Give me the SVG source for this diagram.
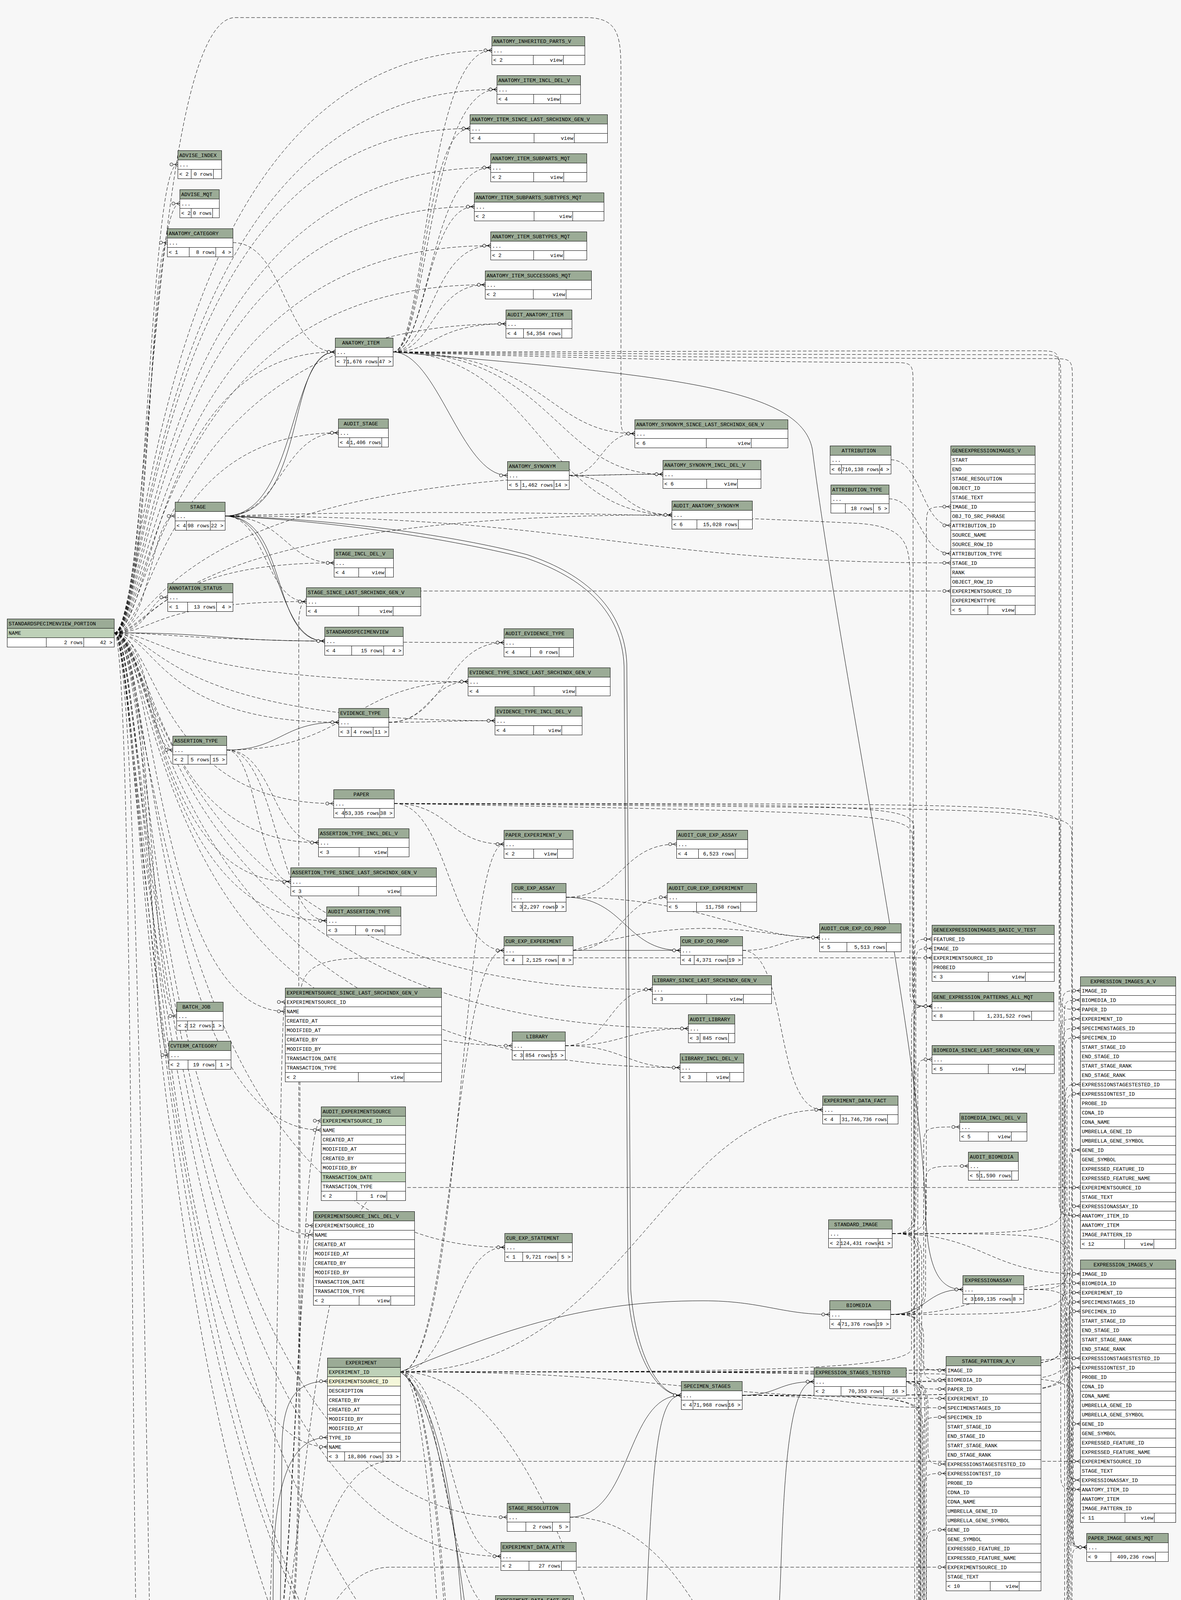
<svg xmlns="http://www.w3.org/2000/svg" width="3024" height="6423" viewBox="0 0 3024 6423">
<style>
text{font-family:"Liberation Mono","DejaVu Sans Mono",monospace;font-size:13.3px;fill:#000}
.e{text-anchor:end}
.h{fill:#9bab96;stroke:#000}
.b{fill:url(#rw);stroke:#000}
.k{fill:#bed1b8;stroke:#000}
.yl{fill:#f4f7da;stroke:#000}
.tb rect,.tb path{shape-rendering:crispEdges}
.tb path{stroke:#000;fill:none}
#cn path{fill:none;stroke:#000;stroke-width:1;marker-end:url(#m)}
#cn .d{stroke-dasharray:9 5}
</style>
<defs>
<marker id="m" viewBox="0 0 24 14" markerWidth="24" markerHeight="14" refX="22" refY="7" orient="auto" markerUnits="userSpaceOnUse">
<path d="M10 7H22M14 7L22 2M14 7L22 12" fill="none" stroke="#000" stroke-width="1"/>
<circle cx="6" cy="7" r="4" fill="#f7f7f7" stroke="#000" stroke-width="1"/>
</marker>
<pattern id="rw" width="2000" height="24" patternUnits="userSpaceOnUse"><rect width="2000" height="24" fill="#fff"/><rect width="2000" height="1" fill="#000"/></pattern>
</defs>
<rect width="3024" height="6423" fill="#f7f7f7"/>
<g id="cn">
<path class="d" d="M292 1620C380 1620 380 421 455 421"/>
<path class="d" d="M292 1620C382 1620 382 521 460 521"/>
<path class="d" d="M292 1620C384 1620 384 621 428 621"/>
<path class="d" d="M292 1620C376 1620 376 129 1259 129"/>
<path class="d" d="M292 1620C378 1620 378 229 1272 229"/>
<path class="d" d="M292 1620C380 1620 380 329 1203 329"/>
<path class="d" d="M292 1620C382 1620 382 429 1256 429"/>
<path class="d" d="M292 1620C384 1620 384 529 1214 529"/>
<path class="d" d="M292 1620C386 1620 386 629 1256 629"/>
<path class="d" d="M292 1620C388 1620 388 729 1242 729"/>
<path class="d" d="M292 1620C390 1620 390 829 1295 829"/>
<path class="d" d="M292 1620C392 1620 392 901 858 901"/>
<path class="d" d="M292 1620C394 1620 394 1108 866 1108"/>
<path class="d" d="M292 1620C386 1620 386 1321 448 1321"/>
<path class="d" d="M292 1620C390 1620 390 1441 855 1441"/>
<path class="d" d="M292 1620C382 1620 382 1529 429 1529"/>
<path class="d" d="M292 1620C396 1620 396 1540 784 1540"/>
<path class="d" d="M292 1620C385 1620 385 60 600 45L1500 45C1590 45 1590 100 1590 200L1590 1050C1590 1110 1590 1110 1625 1110"/>
<path class="d" d="M292 1620C400 1620 400 1214 1697 1214"/>
<path class="d" d="M292 1620C402 1620 402 1318 1720 1318"/>
<path d="M292 1620C560 1620 560 1641 831 1641"/>
<path class="d" d="M292 1620C450 1620 450 1645 1290 1645"/>
<path class="d" d="M292 1620C420 1620 420 1745 1198 1745"/>
<path class="d" d="M292 1620C410 1620 410 1845 1267 1845"/>
<path class="d" d="M292 1620C400 1620 400 1849 867 1849"/>
<path class="d" d="M292 1620C384 1620 384 1920 442 1920"/>
<path class="d" d="M292 1620C392 1620 392 2157 815 2157"/>
<path class="d" d="M292 1620C394 1620 394 2257 744 2257"/>
<path class="d" d="M292 1620C396 1620 396 2357 836 2357"/>
<path class="d" d="M292 1620C388 1620 388 2601 452 2601"/>
<path class="d" d="M292 1620C386 1620 386 2701 432 2701"/>
<path class="d" d="M292 1620C398 1620 398 2589 730 2589"/>
<path class="d" d="M292 1620C392 1620 392 2893 822 2893"/>
<path class="d" d="M292 1620C388 1620 388 3161 802 3161"/>
<path class="d" d="M292 1620C384 1620 384 3704 838 3704"/>
<path class="d" d="M292 1620C345 1620 335 4425 359 4425"/>
<path class="d" d="M292 1620C380 1620 380 5848 438 5848"/>
<path class="d" d="M292 1620C396 1620 396 2677 1311 2677"/>
<path class="d" d="M292 1620C400 1620 400 2533 1670 2533"/>
<path class="d" d="M292 1620C402 1620 402 2633 1762 2633"/>
<path class="d" d="M292 1620C404 1620 404 2733 1741 2733"/>
<path class="d" d="M292 1620C378 1620 378 4554 1283 4554"/>
<path class="d" d="M292 1620C376 1620 376 4800 1302 4800"/>
<path class="d" d="M292 1620C382 1620 382 3884 1298 3884"/>
<path class="d" d="M292 1620C380 1620 380 3984 1282 3984"/>
<path class="d" d="M292 1620C374 1620 374 5012 1756 5012"/>
<path class="d" d="M292 1620C390 1620 390 3193 1292 3193"/>
<path class="d" d="M292 1620C400 1620 400 2057 854 2057"/>
<path class="d" d="M292 1620C372 1620 372 4621 1744 4621"/>
<path class="d" d="M1006 901C1090 901 1090 129 1259 129"/>
<path class="d" d="M1006 901C1095 901 1095 229 1272 229"/>
<path class="d" d="M1006 901C1085 901 1085 329 1203 329"/>
<path class="d" d="M1006 901C1100 901 1100 429 1256 429"/>
<path class="d" d="M1006 901C1092 901 1092 529 1214 529"/>
<path class="d" d="M1006 901C1104 901 1104 629 1256 629"/>
<path class="d" d="M1006 901C1108 901 1108 729 1242 729"/>
<path class="d" d="M1006 901C1112 901 1112 829 1295 829"/>
<path d="M1006 901C1120 901 1180 1217 1299 1217"/>
<path class="d" d="M1006 901C1400 901 1400 1110 1625 1110"/>
<path class="d" d="M1006 901C1420 901 1420 1214 1697 1214"/>
<path class="d" d="M1006 901C1380 901 1380 1318 1720 1318"/>
<path d="M1006 901C1700 960 2050 990 2080 1150C2150 1700 2360 2700 2370 3100C2375 3260 2410 3301 2465 3301"/>
<path class="d" d="M1006 901C1400 901 2000 898 2650 898C2712 898 2712 898 2712 960L2712 3052C2712 3112 2712 3112 2766 3112"/>
<path class="d" d="M1006 901C1400 905 2000 908 2656 908C2716 908 2716 908 2716 970L2716 3753C2716 3813 2716 3813 2766 3813"/>
<path class="d" d="M1006 901C1400 915 2000 928 2278 928C2338 928 2338 928 2338 990L2338 2516C2338 2576 2338 2576 2386 2576"/>
<path class="d" d="M1006 901C1400 910 2000 918 2686 918C2746 918 2746 918 2746 980L2746 3901C2746 3961 2746 3961 2782 3961"/>
<path d="M576 1321C760 1321 740 901 858 901"/>
<path d="M576 1321C790 1321 730 901 858 901"/>
<path d="M576 1321C720 1321 700 1641 831 1641"/>
<path d="M576 1321C740 1321 690 1641 831 1641"/>
<path class="d" d="M576 1321C720 1321 720 1108 866 1108"/>
<path class="d" d="M576 1321C730 1321 730 1441 855 1441"/>
<path class="d" d="M576 1321C680 1321 680 1540 784 1540"/>
<path d="M576 1321C900 1330 1200 1380 1350 1420C1500 1470 1600 1560 1605 1700L1615 3300C1625 3450 1680 3572 1744 3572"/>
<path d="M576 1321C900 1336 1195 1390 1345 1428C1495 1478 1593 1566 1598 1706L1608 3306C1618 3456 1676 3572 1744 3572"/>
<path class="d" d="M576 1321C1500 1321 1600 1441 2434 1441"/>
<path class="d" d="M576 1321C1200 1300 1800 1320 2200 1340C2330 1350 2330 1400 2330 1500L2330 2516C2330 2576 2330 2576 2386 2576"/>
<path class="d" d="M596 621C730 621 730 901 858 901"/>
<path class="d" d="M1457 1217C1540 1217 1540 1110 1625 1110"/>
<path class="d" d="M1457 1217C1577 1217 1577 1214 1697 1214"/>
<path class="d" d="M1457 1217C1590 1217 1590 1318 1720 1318"/>
<path class="d" d="M2281 1177C2360 1177 2360 1345 2434 1345"/>
<path class="d" d="M2276 1277C2355 1277 2355 1417 2434 1417"/>
<path class="d" d="M995 1849C1140 1849 1140 1645 1290 1645"/>
<path class="d" d="M995 1849C1100 1849 1100 1745 1198 1745"/>
<path class="d" d="M995 1849C1130 1849 1130 1845 1267 1845"/>
<path d="M580 1920C720 1920 720 1849 867 1849"/>
<path class="d" d="M580 1920C700 1920 700 2157 815 2157"/>
<path class="d" d="M580 1920C660 1920 660 2257 744 2257"/>
<path class="d" d="M580 1920C710 1920 710 2357 836 2357"/>
<path class="d" d="M580 1920C900 1920 900 1745 1198 1745"/>
<path class="d" d="M1009 2057C1150 2057 1150 2161 1290 2161"/>
<path class="d" d="M1009 2057C1150 2057 1150 2433 1290 2433"/>
<path class="d" d="M1009 2057C2600 2057 2714 2057 2714 2117L2714 2524C2714 2584 2714 2584 2766 2584"/>
<path class="d" d="M1009 2057C2250 2060 2340 2060 2340 2120L2340 3496C2340 3556 2340 3556 2422 3556"/>
<path class="d" d="M1009 2057C2620 2070 2744 2070 2744 2130L2744 3901C2744 3961 2744 3961 2782 3961"/>
<path class="d" d="M1009 2057C2200 2080 2336 2080 2336 2140L2336 2516C2336 2576 2336 2576 2386 2576"/>
<path class="d" d="M1449 2297C1590 2297 1590 2161 1732 2161"/>
<path d="M1449 2297C1600 2297 1600 2433 1742 2433"/>
<path class="d" d="M1449 2297C1800 2297 1900 2400 2098 2400"/>
<path d="M1467 2433L1742 2433"/>
<path class="d" d="M1467 2433C1590 2433 1590 2297 1708 2297"/>
<path class="d" d="M1467 2433C1800 2330 1950 2400 2098 2400"/>
<path class="d" d="M1901 2433C2000 2433 2000 2400 2098 2400"/>
<path class="d" d="M1901 2433C2020 2433 1980 2841 2106 2841"/>
<path class="d" d="M1447 2677C1560 2677 1560 2533 1670 2533"/>
<path class="d" d="M1447 2677C1600 2677 1600 2633 1762 2633"/>
<path class="d" d="M1447 2677C1600 2677 1600 2733 1741 2733"/>
<path d="M1025 3512C1300 3400 1500 3330 1800 3330C1950 3330 2000 3365 2124 3365"/>
<path d="M1025 3512C1150 3600 1180 4000 1200 4400C1215 4650 1240 4800 1302 4800"/>
<path d="M1025 3512C1160 3600 1200 4300 1250 4500C1300 4680 1600 4621 1744 4621"/>
<path class="d" d="M1025 3512C1160 3512 1160 3193 1292 3193"/>
<path class="d" d="M1025 3512C1150 3512 1150 3984 1282 3984"/>
<path class="d" d="M1025 3512C1140 3512 1140 4120 1268 4120"/>
<path class="d" d="M1025 3512C1600 3512 1700 2841 2106 2841"/>
<path class="d" d="M1025 3512C1160 3512 1160 2433 1290 2433"/>
<path class="d" d="M1025 3512C1800 3512 2334 3512 2334 3452L2334 2636C2334 2576 2334 2576 2386 2576"/>
<path class="d" d="M1025 3512C1170 3512 1170 5363 1286 5363"/>
<path class="d" d="M1025 3512C1175 3512 1175 5680 1282 5680"/>
<path class="d" d="M1025 3512C1160 3512 1160 5996 1211 5996"/>
<path class="d" d="M1025 3512C2600 3512 2716 3512 2716 3452L2716 2668C2716 2608 2716 2608 2766 2608"/>
<path class="d" d="M1025 3512C2600 3512 2718 3512 2718 3452L2718 3369C2718 3309 2718 3309 2766 3309"/>
<path class="d" d="M1025 3512C1724 3512 1724 3580 2422 3580"/>
<path class="d" d="M1025 3512C2250 3512 2358 3512 2358 3572L2358 4125C2358 4185 2358 4185 2422 4185"/>
<path class="d" d="M1025 3512C2250 3512 2352 3512 2352 3572L2352 4705C2352 4765 2352 4765 2422 4765"/>
<path class="d" d="M1025 3512C1600 3512 1700 5497 2098 5497"/>
<path class="d" d="M1025 3512C2620 3512 2748 3512 2748 3572L2748 3901C2748 3961 2748 3961 2782 3961"/>
<path class="d" d="M1025 3512C1180 3512 1180 2161 1290 2161"/>
<path d="M662 4401C700 4390 715 4300 718 4100L722 3700C724 3580 760 3536 838 3536"/>
<path class="d" d="M662 4401C760 4401 760 2869 822 2869"/>
<path class="d" d="M662 4401C755 4401 755 3137 802 3137"/>
<path class="d" d="M662 4401C712 4401 712 2565 730 2565"/>
<path class="d" d="M662 4401C770 4401 770 5387 1286 5387"/>
<path class="d" d="M662 4401C765 4401 765 5704 1282 5704"/>
<path class="d" d="M662 4401C760 4401 760 6020 1211 6020"/>
<path class="d" d="M662 4401C765 4401 765 3900 765 3400L765 1600C765 1513 800 1513 900 1513L2434 1513"/>
<path class="d" d="M662 4401C768 4401 768 3900 768 3400L768 2560C768 2452 850 2452 1000 2452L2386 2452"/>
<path class="d" d="M662 4401C770 4401 770 3040 1000 3040L2766 3040"/>
<path class="d" d="M662 4401C772 4401 772 3741 1000 3741L2766 3741"/>
<path class="d" d="M662 4401C780 4401 800 4012 1000 4012L2422 4012"/>
<path class="d" d="M662 4401C900 4401 1000 4617 1300 4617L2422 4617"/>
<path class="d" d="M662 4401C780 4401 780 4813 1000 4813L2422 4813"/>
<path class="d" d="M662 4401C775 4401 775 5321 1000 5321L2410 5321"/>
<path d="M585 5848C640 5790 680 5600 690 5200L700 4000C705 3760 760 3680 838 3680"/>
<path class="d" d="M585 5848C935 5848 935 5531 1286 5531"/>
<path class="d" d="M585 5848L1282 5848"/>
<path class="d" d="M585 5848C900 5848 900 6164 1211 6164"/>
<path class="d" d="M585 5848C650 5900 650 6150 800 6260C1000 6390 1400 6380 1600 6340C1900 6280 1950 5497 2098 5497"/>
<path d="M1900 3572C1992 3572 1992 3537 2084 3537"/>
<path class="d" d="M1900 3572C2600 3572 2722 3572 2722 3512L2722 2692C2722 2632 2722 2632 2766 2632"/>
<path class="d" d="M1900 3572C2600 3572 2730 3572 2730 3512L2730 3393C2730 3333 2730 3333 2766 3333"/>
<path class="d" d="M1900 3572C2161 3572 2161 3604 2422 3604"/>
<path class="d" d="M1900 3572C2250 3572 2362 3572 2362 3632L2362 4149C2362 4209 2362 4209 2422 4209"/>
<path class="d" d="M1900 3572C2250 3572 2356 3572 2356 3632L2356 4825C2356 4885 2356 4885 2422 4885"/>
<path d="M1459 3884C1620 3884 1600 3572 1744 3572"/>
<path class="d" d="M1459 3884C1940 3884 1940 4981 2422 4981"/>
<path class="d" d="M2320 3537C2650 3537 2728 3537 2728 3477L2728 2836C2728 2776 2728 2776 2766 2776"/>
<path class="d" d="M2320 3537C2543 3537 2543 3477 2766 3477"/>
<path class="d" d="M2320 3537C2350 3537 2376 3537 2376 3597L2376 3688C2376 3748 2376 3748 2422 3748"/>
<path class="d" d="M2320 3537C2350 3537 2372 3537 2372 3597L2372 4293C2372 4353 2372 4353 2422 4353"/>
<path class="d" d="M2320 3537C2345 3537 2368 3537 2368 3597L2368 4801C2368 4861 2368 4861 2422 4861"/>
<path d="M1900 4621C1960 4600 1990 4300 2000 4000C2010 3700 2030 3537 2084 3537"/>
<path class="d" d="M1900 4621C2000 4621 2000 4745 2105 4745"/>
<path class="d" d="M1900 4621C2600 4621 2732 4621 2732 4561L2732 2860C2732 2800 2732 2800 2766 2800"/>
<path class="d" d="M1900 4621C2600 4621 2736 4621 2736 4561L2736 3561C2736 3501 2736 3501 2766 3501"/>
<path class="d" d="M1900 4621C2250 4621 2366 4621 2366 4561L2366 3832C2366 3772 2366 3772 2422 3772"/>
<path class="d" d="M1900 4621C2250 4621 2370 4621 2370 4561L2370 4437C2370 4377 2370 4377 2422 4377"/>
<path class="d" d="M1900 4621C2250 4621 2374 4621 2374 4681L2374 4777C2374 4837 2374 4837 2422 4837"/>
<path d="M1454 4800C1600 4790 1640 4500 1660 4000C1675 3700 1690 3572 1744 3572"/>
<path class="d" d="M1454 4800C1600 4800 1600 5012 1756 5012"/>
<path class="d" d="M1454 4800C2600 4800 2726 4800 2726 4740L2726 2716C2726 2656 2726 2656 2766 2656"/>
<path class="d" d="M1454 4800C2600 4800 2734 4800 2734 4740L2734 3417C2734 3357 2734 3357 2766 3357"/>
<path class="d" d="M1454 4800C2250 4800 2364 4800 2364 4740L2364 3688C2364 3628 2364 3628 2422 3628"/>
<path class="d" d="M1454 4800C2250 4800 2360 4800 2360 4740L2360 4293C2360 4233 2360 4233 2422 4233"/>
<path class="d" d="M1454 4800C1938 4800 1938 4909 2422 4909"/>
<path d="M1463 4554C1600 4554 1600 4621 1744 4621"/>
<path class="d" d="M1463 4554C2600 4554 2738 4554 2738 4494L2738 3004C2738 2944 2738 2944 2766 2944"/>
<path class="d" d="M1463 4554C2600 4554 2742 4554 2742 4494L2742 3705C2742 3645 2742 3645 2766 3645"/>
<path class="d" d="M1463 4554C2250 4554 2372 4554 2372 4494L2372 3976C2372 3916 2372 3916 2422 3916"/>
<path class="d" d="M1463 4554C1942 4554 1942 4521 2422 4521"/>
<path class="d" d="M1463 4554C2250 4554 2342 4554 2342 4494L2342 2464C2342 2404 2342 2404 2386 2404"/>
<path class="d" d="M1463 4554C2250 4554 2350 4554 2350 4614L2350 5213C2350 5273 2350 5273 2410 5273"/>
<path class="d" d="M1463 4554C1780 4554 1780 5497 2098 5497"/>
<path class="d" d="M1463 4554C2620 4554 2745 4554 2745 4494L2745 4021C2745 3961 2745 3961 2782 3961"/>
<path class="d" d="M2284 3158C2330 3158 2372 3158 2372 3098L2372 1357C2372 1297 2372 1297 2434 1297"/>
<path class="d" d="M2284 3158C2320 3158 2345 3158 2345 3098L2345 2488C2345 2428 2345 2428 2386 2428"/>
<path class="d" d="M2284 3158C2600 3158 2720 3158 2720 3098L2720 2596C2720 2536 2720 2536 2766 2536"/>
<path class="d" d="M2284 3158C2525 3158 2525 3261 2766 3261"/>
<path class="d" d="M2284 3158C2330 3158 2360 3158 2360 3218L2360 3448C2360 3508 2360 3508 2422 3508"/>
<path class="d" d="M2284 3158C2330 3158 2354 3158 2354 3218L2354 4077C2354 4137 2354 4137 2422 4137"/>
<path class="d" d="M2284 3158C2320 3158 2348 3158 2348 3218L2348 5237C2348 5297 2348 5297 2410 5297"/>
<path class="d" d="M2284 3158C2640 3158 2740 3158 2740 3218L2740 3901C2740 3961 2740 3961 2782 3961"/>
<path class="d" d="M2284 3158C2310 3158 2340 3158 2340 3098L2340 2636C2340 2576 2340 2576 2386 2576"/>
<path d="M2280 3365C2372 3365 2372 3301 2465 3301"/>
<path class="d" d="M2280 3365C2320 3365 2350 3365 2350 3305L2350 2772C2350 2712 2350 2712 2386 2712"/>
<path class="d" d="M2280 3365C2330 3365 2365 3365 2365 3305L2365 2945C2365 2885 2365 2885 2457 2885"/>
<path class="d" d="M2280 3365C2330 3365 2370 3365 2370 3305L2370 3045C2370 2985 2370 2985 2479 2985"/>
<path class="d" d="M2280 3365C2600 3365 2725 3365 2725 3305L2725 2620C2725 2560 2725 2560 2766 2560"/>
<path class="d" d="M2280 3365C2523 3365 2523 3285 2766 3285"/>
<path class="d" d="M2280 3365C2330 3365 2365 3365 2365 3425L2365 3472C2365 3532 2365 3532 2422 3532"/>
<path class="d" d="M2280 3365C2330 3365 2358 3365 2358 3425L2358 4101C2358 4161 2358 4161 2422 4161"/>
<path class="d" d="M2621 3301C2700 3301 2735 3301 2735 3241L2735 3148C2735 3088 2735 3088 2766 3088"/>
<path class="d" d="M2621 3301C2700 3301 2738 3301 2738 3361L2738 3729C2738 3789 2738 3789 2766 3789"/>
</g>
<g class="tb">
<g id="ANATOMY_INHERITED_PARTS_V" transform="translate(1259,93)"><rect class="h" width="238" height="24"/><text x="4" y="17">ANATOMY_INHERITED_PARTS_V</text><rect class="b" y="24" width="238" height="48"/><text x="4" y="41">...</text><path d="M106 48v24M183 48v24"/><text x="4" y="65">&lt; 2</text><text class="e" x="181" y="65">view</text></g>
<g id="ANATOMY_ITEM_INCL_DEL_V" transform="translate(1272,193)"><rect class="h" width="214" height="24"/><text x="4" y="17">ANATOMY_ITEM_INCL_DEL_V</text><rect class="b" y="24" width="214" height="48"/><text x="4" y="41">...</text><path d="M94 48v24M163 48v24"/><text x="4" y="65">&lt; 4</text><text class="e" x="161" y="65">view</text></g>
<g id="ANATOMY_ITEM_SINCE_LAST_SRCHINDX_GEN_V" transform="translate(1203,293)"><rect class="h" width="352" height="24"/><text x="4" y="17">ANATOMY_ITEM_SINCE_LAST_SRCHINDX_GEN_V</text><rect class="b" y="24" width="352" height="48"/><text x="4" y="41">...</text><path d="M164 48v24M267 48v24"/><text x="4" y="65">&lt; 4</text><text class="e" x="265" y="65">view</text></g>
<g id="ANATOMY_ITEM_SUBPARTS_MQT" transform="translate(1256,393)"><rect class="h" width="246" height="24"/><text x="4" y="17">ANATOMY_ITEM_SUBPARTS_MQT</text><rect class="b" y="24" width="246" height="48"/><text x="4" y="41">...</text><path d="M110 48v24M187 48v24"/><text x="4" y="65">&lt; 2</text><text class="e" x="185" y="65">view</text></g>
<g id="ANATOMY_ITEM_SUBPARTS_SUBTYPES_MQT" transform="translate(1214,493)"><rect class="h" width="332" height="24"/><text x="4" y="17">ANATOMY_ITEM_SUBPARTS_SUBTYPES_MQT</text><rect class="b" y="24" width="332" height="48"/><text x="4" y="41">...</text><path d="M153 48v24M252 48v24"/><text x="4" y="65">&lt; 2</text><text class="e" x="250" y="65">view</text></g>
<g id="ANATOMY_ITEM_SUBTYPES_MQT" transform="translate(1256,593)"><rect class="h" width="246" height="24"/><text x="4" y="17">ANATOMY_ITEM_SUBTYPES_MQT</text><rect class="b" y="24" width="246" height="48"/><text x="4" y="41">...</text><path d="M110 48v24M187 48v24"/><text x="4" y="65">&lt; 2</text><text class="e" x="185" y="65">view</text></g>
<g id="ANATOMY_ITEM_SUCCESSORS_MQT" transform="translate(1242,693)"><rect class="h" width="272" height="24"/><text x="4" y="17">ANATOMY_ITEM_SUCCESSORS_MQT</text><rect class="b" y="24" width="272" height="48"/><text x="4" y="41">...</text><path d="M123 48v24M207 48v24"/><text x="4" y="65">&lt; 2</text><text class="e" x="205" y="65">view</text></g>
<g id="AUDIT_ANATOMY_ITEM" transform="translate(1295,793)"><rect class="h" width="169" height="24"/><text x="4" y="17">AUDIT_ANATOMY_ITEM</text><rect class="b" y="24" width="169" height="48"/><text x="4" y="41">...</text><path d="M45 48v24M143 48v24"/><text x="4" y="65">&lt; 4</text><text class="e" x="141" y="65">54,354 rows</text></g>
<g id="ADVISE_INDEX" transform="translate(455,385)"><rect class="h" width="112" height="24"/><text x="4" y="17">ADVISE_INDEX</text><rect class="b" y="24" width="112" height="48"/><text x="4" y="41">...</text><path d="M34 48v24M91 48v24"/><text x="4" y="65">&lt; 2</text><text class="e" x="89" y="65">0 rows</text></g>
<g id="ADVISE_MQT" transform="translate(460,485)"><rect class="h" width="101" height="24"/><text x="4" y="17">ADVISE_MQT</text><rect class="b" y="24" width="101" height="48"/><text x="4" y="41">...</text><path d="M29 48v24M84 48v24"/><text x="4" y="65">&lt; 2</text><text class="e" x="82" y="65">0 rows</text></g>
<g id="ANATOMY_CATEGORY" transform="translate(428,585)"><rect class="h" width="168" height="24"/><text x="4" y="17">ANATOMY_CATEGORY</text><rect class="b" y="24" width="168" height="48"/><text x="4" y="41">...</text><path d="M56 48v24M124 48v24"/><text x="4" y="65">&lt; 1</text><text class="e" x="122" y="65">8 rows</text><text class="e" x="164" y="65">4 &gt;</text></g>
<g id="ANATOMY_ITEM" transform="translate(858,865)"><rect class="h" width="148" height="24"/><text x="18" y="17">ANATOMY_ITEM</text><rect class="b" y="24" width="148" height="48"/><text x="4" y="41">...</text><path d="M29 48v24M110 48v24"/><text x="4" y="65">&lt; 7</text><text class="e" x="109" y="65">1,676 rows</text><text class="e" x="144" y="65">47 &gt;</text></g>
<g id="AUDIT_STAGE" transform="translate(866,1072)"><rect class="h" width="128" height="24"/><text x="14" y="17">AUDIT_STAGE</text><rect class="b" y="24" width="128" height="48"/><text x="4" y="41">...</text><path d="M29 48v24M111 48v24"/><text x="4" y="65">&lt; 4</text><text class="e" x="110" y="65">1,406 rows</text></g>
<g id="STAGE" transform="translate(448,1285)"><rect class="h" width="128" height="24"/><text x="39" y="17">STAGE</text><rect class="b" y="24" width="128" height="48"/><text x="4" y="41">...</text><path d="M29 48v24M90 48v24"/><text x="4" y="65">&lt; 4</text><text class="e" x="88" y="65">98 rows</text><text class="e" x="124" y="65">22 &gt;</text></g>
<g id="STAGE_INCL_DEL_V" transform="translate(855,1405)"><rect class="h" width="152" height="24"/><text x="4" y="17">STAGE_INCL_DEL_V</text><rect class="b" y="24" width="152" height="48"/><text x="4" y="41">...</text><path d="M63 48v24M131 48v24"/><text x="4" y="65">&lt; 4</text><text class="e" x="129" y="65">view</text></g>
<g id="ANNOTATION_STATUS" transform="translate(429,1493)"><rect class="h" width="167" height="24"/><text x="4" y="17">ANNOTATION_STATUS</text><rect class="b" y="24" width="167" height="48"/><text x="4" y="41">...</text><path d="M51 48v24M125 48v24"/><text x="4" y="65">&lt; 1</text><text class="e" x="123" y="65">13 rows</text><text class="e" x="163" y="65">4 &gt;</text></g>
<g id="STAGE_SINCE_LAST_SRCHINDX_GEN_V" transform="translate(784,1504)"><rect class="h" width="293" height="24"/><text x="4" y="17">STAGE_SINCE_LAST_SRCHINDX_GEN_V</text><rect class="b" y="24" width="293" height="48"/><text x="4" y="41">...</text><path d="M134 48v24M222 48v24"/><text x="4" y="65">&lt; 4</text><text class="e" x="220" y="65">view</text></g>
<g id="STANDARDSPECIMENVIEW_PORTION" transform="translate(18,1584)"><rect class="h" width="274" height="24"/><text x="4" y="17">STANDARDSPECIMENVIEW_PORTION</text><rect class="b" y="24" width="274" height="48"/><rect class="k" y="24" width="274" height="24"/><text x="4" y="41">NAME</text><path d="M100 48v24M196 48v24"/><text class="e" x="194" y="65">2 rows</text><text class="e" x="270" y="65">42 &gt;</text></g>
<g id="STANDARDSPECIMENVIEW" transform="translate(831,1605)"><rect class="h" width="201" height="24"/><text x="4" y="17">STANDARDSPECIMENVIEW</text><rect class="b" y="24" width="201" height="48"/><text x="4" y="41">...</text><path d="M69 48v24M151 48v24"/><text x="4" y="65">&lt; 4</text><text class="e" x="149" y="65">15 rows</text><text class="e" x="197" y="65">4 &gt;</text></g>
<g id="ANATOMY_SYNONYM_SINCE_LAST_SRCHINDX_GEN_V" transform="translate(1625,1074)"><rect class="h" width="392" height="24"/><text x="4" y="17">ANATOMY_SYNONYM_SINCE_LAST_SRCHINDX_GEN_V</text><rect class="b" y="24" width="392" height="48"/><text x="4" y="41">...</text><path d="M183 48v24M298 48v24"/><text x="4" y="65">&lt; 6</text><text class="e" x="296" y="65">view</text></g>
<g id="ANATOMY_SYNONYM" transform="translate(1299,1181)"><rect class="h" width="158" height="24"/><text x="4" y="17">ANATOMY_SYNONYM</text><rect class="b" y="24" width="158" height="48"/><text x="4" y="41">...</text><path d="M34 48v24M119 48v24"/><text x="4" y="65">&lt; 5</text><text class="e" x="117" y="65">1,462 rows</text><text class="e" x="154" y="65">14 &gt;</text></g>
<g id="ANATOMY_SYNONYM_INCL_DEL_V" transform="translate(1697,1178)"><rect class="h" width="251" height="24"/><text x="4" y="17">ANATOMY_SYNONYM_INCL_DEL_V</text><rect class="b" y="24" width="251" height="48"/><text x="4" y="41">...</text><path d="M112 48v24M191 48v24"/><text x="4" y="65">&lt; 6</text><text class="e" x="189" y="65">view</text></g>
<g id="AUDIT_ANATOMY_SYNONYM" transform="translate(1720,1282)"><rect class="h" width="206" height="24"/><text x="4" y="17">AUDIT_ANATOMY_SYNONYM</text><rect class="b" y="24" width="206" height="48"/><text x="4" y="41">...</text><path d="M64 48v24M170 48v24"/><text x="4" y="65">&lt; 6</text><text class="e" x="168" y="65">15,028 rows</text></g>
<g id="ATTRIBUTION" transform="translate(2125,1141)"><rect class="h" width="156" height="24"/><text x="30" y="17">ATTRIBUTION</text><rect class="b" y="24" width="156" height="48"/><text x="4" y="41">...</text><path d="M29 48v24M127 48v24"/><text x="4" y="65">&lt; 6</text><text class="e" x="126" y="65">710,138 rows</text><text class="e" x="152" y="65">4 &gt;</text></g>
<g id="ATTRIBUTION_TYPE" transform="translate(2127,1241)"><rect class="h" width="149" height="24"/><text x="4" y="17">ATTRIBUTION_TYPE</text><rect class="b" y="24" width="149" height="48"/><text x="4" y="41">...</text><path d="M37 48v24M109 48v24"/><text class="e" x="107" y="65">18 rows</text><text class="e" x="145" y="65">5 &gt;</text></g>
<g id="AUDIT_EVIDENCE_TYPE" transform="translate(1290,1609)"><rect class="h" width="178" height="24"/><text x="4" y="17">AUDIT_EVIDENCE_TYPE</text><rect class="b" y="24" width="178" height="48"/><text x="4" y="41">...</text><path d="M68 48v24M141 48v24"/><text x="4" y="65">&lt; 4</text><text class="e" x="139" y="65">0 rows</text></g>
<g id="EVIDENCE_TYPE_SINCE_LAST_SRCHINDX_GEN_V" transform="translate(1198,1709)"><rect class="h" width="364" height="24"/><text x="4" y="17">EVIDENCE_TYPE_SINCE_LAST_SRCHINDX_GEN_V</text><rect class="b" y="24" width="364" height="48"/><text x="4" y="41">...</text><path d="M169 48v24M276 48v24"/><text x="4" y="65">&lt; 4</text><text class="e" x="274" y="65">view</text></g>
<g id="EVIDENCE_TYPE_INCL_DEL_V" transform="translate(1267,1809)"><rect class="h" width="223" height="24"/><text x="4" y="17">EVIDENCE_TYPE_INCL_DEL_V</text><rect class="b" y="24" width="223" height="48"/><text x="4" y="41">...</text><path d="M99 48v24M171 48v24"/><text x="4" y="65">&lt; 4</text><text class="e" x="169" y="65">view</text></g>
<g id="EVIDENCE_TYPE" transform="translate(867,1813)"><rect class="h" width="128" height="24"/><text x="4" y="17">EVIDENCE_TYPE</text><rect class="b" y="24" width="128" height="48"/><text x="4" y="41">...</text><path d="M32 48v24M88 48v24"/><text x="4" y="65">&lt; 3</text><text class="e" x="86" y="65">4 rows</text><text class="e" x="124" y="65">11 &gt;</text></g>
<g id="ASSERTION_TYPE" transform="translate(442,1884)"><rect class="h" width="138" height="24"/><text x="4" y="17">ASSERTION_TYPE</text><rect class="b" y="24" width="138" height="48"/><text x="4" y="41">...</text><path d="M39 48v24M96 48v24"/><text x="4" y="65">&lt; 2</text><text class="e" x="94" y="65">5 rows</text><text class="e" x="134" y="65">15 &gt;</text></g>
<g id="PAPER" transform="translate(854,2021)"><rect class="h" width="155" height="24"/><text x="51" y="17">PAPER</text><rect class="b" y="24" width="155" height="48"/><text x="4" y="41">...</text><path d="M28 48v24M118 48v24"/><text x="4" y="65">&lt; 4</text><text class="e" x="117" y="65">53,335 rows</text><text class="e" x="151" y="65">38 &gt;</text></g>
<g id="ASSERTION_TYPE_INCL_DEL_V" transform="translate(815,2121)"><rect class="h" width="232" height="24"/><text x="4" y="17">ASSERTION_TYPE_INCL_DEL_V</text><rect class="b" y="24" width="232" height="48"/><text x="4" y="41">...</text><path d="M104 48v24M177 48v24"/><text x="4" y="65">&lt; 3</text><text class="e" x="175" y="65">view</text></g>
<g id="ASSERTION_TYPE_SINCE_LAST_SRCHINDX_GEN_V" transform="translate(744,2221)"><rect class="h" width="373" height="24"/><text x="4" y="17">ASSERTION_TYPE_SINCE_LAST_SRCHINDX_GEN_V</text><rect class="b" y="24" width="373" height="48"/><text x="4" y="41">...</text><path d="M174 48v24M282 48v24"/><text x="4" y="65">&lt; 3</text><text class="e" x="280" y="65">view</text></g>
<g id="AUDIT_ASSERTION_TYPE" transform="translate(836,2321)"><rect class="h" width="190" height="24"/><text x="4" y="17">AUDIT_ASSERTION_TYPE</text><rect class="b" y="24" width="190" height="48"/><text x="4" y="41">...</text><path d="M74 48v24M149 48v24"/><text x="4" y="65">&lt; 3</text><text class="e" x="147" y="65">0 rows</text></g>
<g id="BATCH_JOB" transform="translate(452,2565)"><rect class="h" width="119" height="24"/><text x="15" y="17">BATCH_JOB</text><rect class="b" y="24" width="119" height="48"/><text x="4" y="41">...</text><path d="M28 48v24M91 48v24"/><text x="4" y="65">&lt; 2</text><text class="e" x="89" y="65">12 rows</text><text class="e" x="115" y="65">1 &gt;</text></g>
<g id="CVTERM_CATEGORY" transform="translate(432,2665)"><rect class="h" width="159" height="24"/><text x="4" y="17">CVTERM_CATEGORY</text><rect class="b" y="24" width="159" height="48"/><text x="4" y="41">...</text><path d="M49 48v24M120 48v24"/><text x="4" y="65">&lt; 2</text><text class="e" x="118" y="65">19 rows</text><text class="e" x="155" y="65">1 &gt;</text></g>
<g id="PAPER_EXPERIMENT_V" transform="translate(1290,2125)"><rect class="h" width="177" height="24"/><text x="4" y="17">PAPER_EXPERIMENT_V</text><rect class="b" y="24" width="177" height="48"/><text x="4" y="41">...</text><path d="M76 48v24M137 48v24"/><text x="4" y="65">&lt; 2</text><text class="e" x="135" y="65">view</text></g>
<g id="AUDIT_CUR_EXP_ASSAY" transform="translate(1732,2125)"><rect class="h" width="182" height="24"/><text x="4" y="17">AUDIT_CUR_EXP_ASSAY</text><rect class="b" y="24" width="182" height="48"/><text x="4" y="41">...</text><path d="M56 48v24M150 48v24"/><text x="4" y="65">&lt; 4</text><text class="e" x="148" y="65">6,523 rows</text></g>
<g id="CUR_EXP_ASSAY" transform="translate(1310,2261)"><rect class="h" width="139" height="24"/><text x="7" y="17">CUR_EXP_ASSAY</text><rect class="b" y="24" width="139" height="48"/><text x="4" y="41">...</text><path d="M28 48v24M112 48v24"/><text x="4" y="65">&lt; 3</text><text class="e" x="111" y="65">2,297 rows</text><text class="e" x="135" y="65">9 &gt;</text></g>
<g id="AUDIT_CUR_EXP_EXPERIMENT" transform="translate(1708,2261)"><rect class="h" width="229" height="24"/><text x="4" y="17">AUDIT_CUR_EXP_EXPERIMENT</text><rect class="b" y="24" width="229" height="48"/><text x="4" y="41">...</text><path d="M75 48v24M188 48v24"/><text x="4" y="65">&lt; 5</text><text class="e" x="186" y="65">11,758 rows</text></g>
<g id="CUR_EXP_EXPERIMENT" transform="translate(1290,2397)"><rect class="h" width="177" height="24"/><text x="4" y="17">CUR_EXP_EXPERIMENT</text><rect class="b" y="24" width="177" height="48"/><text x="4" y="41">...</text><path d="M48 48v24M139 48v24"/><text x="4" y="65">&lt; 4</text><text class="e" x="137" y="65">2,125 rows</text><text class="e" x="173" y="65">8 &gt;</text></g>
<g id="CUR_EXP_CO_PROP" transform="translate(1742,2397)"><rect class="h" width="159" height="24"/><text x="4" y="17">CUR_EXP_CO_PROP</text><rect class="b" y="24" width="159" height="48"/><text x="4" y="41">...</text><path d="M35 48v24M121 48v24"/><text x="4" y="65">&lt; 4</text><text class="e" x="120" y="65">4,371 rows</text><text class="e" x="155" y="65">19 &gt;</text></g>
<g id="AUDIT_CUR_EXP_CO_PROP" transform="translate(2098,2364)"><rect class="h" width="209" height="24"/><text x="4" y="17">AUDIT_CUR_EXP_CO_PROP</text><rect class="b" y="24" width="209" height="48"/><text x="4" y="41">...</text><path d="M70 48v24M171 48v24"/><text x="4" y="65">&lt; 5</text><text class="e" x="169" y="65">5,513 rows</text></g>
<g id="LIBRARY_SINCE_LAST_SRCHINDX_GEN_V" transform="translate(1670,2497)"><rect class="h" width="305" height="24"/><text x="4" y="17">LIBRARY_SINCE_LAST_SRCHINDX_GEN_V</text><rect class="b" y="24" width="305" height="48"/><text x="4" y="41">...</text><path d="M139 48v24M233 48v24"/><text x="4" y="65">&lt; 3</text><text class="e" x="231" y="65">view</text></g>
<g id="AUDIT_LIBRARY" transform="translate(1762,2597)"><rect class="h" width="119" height="24"/><text x="4" y="17">AUDIT_LIBRARY</text><rect class="b" y="24" width="119" height="48"/><text x="4" y="41">...</text><path d="M30 48v24M103 48v24"/><text x="4" y="65">&lt; 3</text><text class="e" x="101" y="65">845 rows</text></g>
<g id="LIBRARY" transform="translate(1311,2641)"><rect class="h" width="136" height="24"/><text x="36" y="17">LIBRARY</text><rect class="b" y="24" width="136" height="48"/><text x="4" y="41">...</text><path d="M29 48v24M100 48v24"/><text x="4" y="65">&lt; 3</text><text class="e" x="98" y="65">854 rows</text><text class="e" x="132" y="65">15 &gt;</text></g>
<g id="LIBRARY_INCL_DEL_V" transform="translate(1741,2697)"><rect class="h" width="163" height="24"/><text x="4" y="17">LIBRARY_INCL_DEL_V</text><rect class="b" y="24" width="163" height="48"/><text x="4" y="41">...</text><path d="M68 48v24M127 48v24"/><text x="4" y="65">&lt; 3</text><text class="e" x="125" y="65">view</text></g>
<g id="EXPERIMENT_DATA_FACT" transform="translate(2106,2805)"><rect class="h" width="193" height="24"/><text x="4" y="17">EXPERIMENT_DATA_FACT</text><rect class="b" y="24" width="193" height="48"/><text x="4" y="41">...</text><path d="M45 48v24M166 48v24"/><text x="4" y="65">&lt; 4</text><text class="e" x="165" y="65" textLength="116" lengthAdjust="spacingAndGlyphs">31,746,736 rows</text></g>
<g id="CUR_EXP_STATEMENT" transform="translate(1292,3157)"><rect class="h" width="173" height="24"/><text x="4" y="17">CUR_EXP_STATEMENT</text><rect class="b" y="24" width="173" height="48"/><text x="4" y="41">...</text><path d="M46 48v24M136 48v24"/><text x="4" y="65">&lt; 1</text><text class="e" x="134" y="65">9,721 rows</text><text class="e" x="169" y="65">5 &gt;</text></g>
<g id="GENE_EXPRESSION_PATTERNS_ALL_MQT" transform="translate(2386,2540)"><rect class="h" width="312" height="24"/><text x="4" y="17">GENE_EXPRESSION_PATTERNS_ALL_MQT</text><rect class="b" y="24" width="312" height="48"/><text x="4" y="41">...</text><path d="M107 48v24M255 48v24"/><text x="4" y="65">&lt; 8</text><text class="e" x="253" y="65">1,231,522 rows</text></g>
<g id="BIOMEDIA_SINCE_LAST_SRCHINDX_GEN_V" transform="translate(2386,2676)"><rect class="h" width="313" height="24"/><text x="4" y="17">BIOMEDIA_SINCE_LAST_SRCHINDX_GEN_V</text><rect class="b" y="24" width="313" height="48"/><text x="4" y="41">...</text><path d="M144 48v24M239 48v24"/><text x="4" y="65">&lt; 5</text><text class="e" x="237" y="65">view</text></g>
<g id="BIOMEDIA_INCL_DEL_V" transform="translate(2457,2849)"><rect class="h" width="172" height="24"/><text x="4" y="17">BIOMEDIA_INCL_DEL_V</text><rect class="b" y="24" width="172" height="48"/><text x="4" y="41">...</text><path d="M73 48v24M132 48v24"/><text x="4" y="65">&lt; 5</text><text class="e" x="130" y="65">view</text></g>
<g id="AUDIT_BIOMEDIA" transform="translate(2479,2949)"><rect class="h" width="128" height="24"/><text x="4" y="17">AUDIT_BIOMEDIA</text><rect class="b" y="24" width="128" height="48"/><text x="4" y="41">...</text><path d="M29 48v24M111 48v24"/><text x="4" y="65">&lt; 5</text><text class="e" x="110" y="65">1,590 rows</text></g>
<g id="STANDARD_IMAGE" transform="translate(2121,3122)"><rect class="h" width="163" height="24"/><text x="15" y="17">STANDARD_IMAGE</text><rect class="b" y="24" width="163" height="48"/><text x="4" y="41">...</text><path d="M30 48v24M127 48v24"/><text x="4" y="65">&lt; 2</text><text class="e" x="126" y="65">124,431 rows</text><text class="e" x="159" y="65">41 &gt;</text></g>
<g id="EXPRESSIONASSAY" transform="translate(2465,3265)"><rect class="h" width="156" height="24"/><text x="6" y="17">EXPRESSIONASSAY</text><rect class="b" y="24" width="156" height="48"/><text x="4" y="41">...</text><path d="M30 48v24M126 48v24"/><text x="4" y="65">&lt; 3</text><text class="e" x="125" y="65">169,135 rows</text><text class="e" x="152" y="65">8 &gt;</text></g>
<g id="BIOMEDIA" transform="translate(2124,3329)"><rect class="h" width="156" height="24"/><text x="43" y="17">BIOMEDIA</text><rect class="b" y="24" width="156" height="48"/><text x="4" y="41">...</text><path d="M28 48v24M119 48v24"/><text x="4" y="65">&lt; 4</text><text class="e" x="118" y="65">71,376 rows</text><text class="e" x="152" y="65">19 &gt;</text></g>
<g id="EXPRESSION_STAGES_TESTED" transform="translate(2084,3501)"><rect class="h" width="236" height="24"/><text x="4" y="17">EXPRESSION_STAGES_TESTED</text><rect class="b" y="24" width="236" height="48"/><text x="4" y="41">...</text><path d="M69 48v24M178 48v24"/><text x="4" y="65">&lt; 2</text><text class="e" x="176" y="65">70,353 rows</text><text class="e" x="232" y="65">16 &gt;</text></g>
<g id="SPECIMEN_STAGES" transform="translate(1744,3536)"><rect class="h" width="156" height="24"/><text x="7" y="17">SPECIMEN_STAGES</text><rect class="b" y="24" width="156" height="48"/><text x="4" y="41">...</text><path d="M30 48v24M120 48v24"/><text x="4" y="65">&lt; 4</text><text class="e" x="119" y="65">71,968 rows</text><text class="e" x="152" y="65">16 &gt;</text></g>
<g id="PAPER_IMAGE_GENES_MQT" transform="translate(2782,3925)"><rect class="h" width="209" height="24"/><text x="4" y="17">PAPER_IMAGE_GENES_MQT</text><rect class="b" y="24" width="209" height="48"/><text x="4" y="41">...</text><path d="M62 48v24M176 48v24"/><text x="4" y="65">&lt; 9</text><text class="e" x="174" y="65">409,236 rows</text></g>
<g id="STAGE_RESOLUTION" transform="translate(1298,3848)"><rect class="h" width="161" height="24"/><text x="4" y="17">STAGE_RESOLUTION</text><rect class="b" y="24" width="161" height="48"/><text x="4" y="41">...</text><path d="M48 48v24M116 48v24"/><text class="e" x="114" y="65">2 rows</text><text class="e" x="157" y="65">5 &gt;</text></g>
<g id="EXPERIMENT_DATA_ATTR" transform="translate(1282,3948)"><rect class="h" width="193" height="24"/><text x="4" y="17">EXPERIMENT_DATA_ATTR</text><rect class="b" y="24" width="193" height="48"/><text x="4" y="41">...</text><path d="M72 48v24M155 48v24"/><text x="4" y="65">&lt; 2</text><text class="e" x="153" y="65">27 rows</text></g>
<g id="EXPERIMENT_DATA_FACT_DEL" transform="translate(1268,4084)"><rect class="h" width="200" height="24"/><text x="4" y="17">EXPERIMENT_DATA_FACT_DEL</text><rect class="b" y="24" width="200" height="48"/><text x="4" y="41">...</text><path d="M62 48v24M170 48v24"/><text x="4" y="65">&lt; 4</text><text class="e" x="169" y="65" textLength="104" lengthAdjust="spacingAndGlyphs">9,175,396 rows</text></g>
<g id="FEATURE" transform="translate(1283,4518)"><rect class="h" width="180" height="24"/><text x="60" y="17">FEATURE</text><rect class="b" y="24" width="180" height="48"/><text x="4" y="41">...</text><path d="M29 48v24M146 48v24"/><text x="4" y="65">&lt; 3</text><text class="e" x="145" y="65" textLength="113" lengthAdjust="spacingAndGlyphs">22,095,693 rows</text><text class="e" x="176" y="65">10 &gt;</text></g>
<g id="EXPRESSIONTEST" transform="translate(1744,4585)"><rect class="h" width="156" height="24"/><text x="12" y="17">EXPRESSIONTEST</text><rect class="b" y="24" width="156" height="48"/><text x="4" y="41">...</text><path d="M30 48v24M120 48v24"/><text x="4" y="65">&lt; 3</text><text class="e" x="119" y="65">28,404 rows</text><text class="e" x="152" y="65">13 &gt;</text></g>
<g id="AUDIT_EXPRESSIONTEST" transform="translate(2105,4709)"><rect class="h" width="192" height="24"/><text x="4" y="17">AUDIT_EXPRESSIONTEST</text><rect class="b" y="24" width="192" height="48"/><text x="4" y="41">...</text><path d="M63 48v24M159 48v24"/><text x="4" y="65">&lt; 4</text><text class="e" x="157" y="65">1,220 rows</text></g>
<g id="SPECIMEN" transform="translate(1302,4764)"><rect class="h" width="152" height="24"/><text x="39" y="17">SPECIMEN</text><rect class="b" y="24" width="152" height="48"/><text x="4" y="41">...</text><path d="M28 48v24M117 48v24"/><text x="4" y="65">&lt; 2</text><text class="e" x="116" y="65">13,622 rows</text><text class="e" x="148" y="65">21 &gt;</text></g>
<g id="AUDIT_SPECIMEN" transform="translate(1756,4976)"><rect class="h" width="133" height="24"/><text x="4" y="17">AUDIT_SPECIMEN</text><rect class="b" y="24" width="133" height="48"/><text x="4" y="41">...</text><path d="M36 48v24M110 48v24"/><text x="4" y="65">&lt; 4</text><text class="e" x="108" y="65">437 rows</text></g>
<g id="CUR_EXP_GENE_HIER_MQT" transform="translate(2098,5461)"><rect class="h" width="209" height="24"/><text x="4" y="17">CUR_EXP_GENE_HIER_MQT</text><rect class="b" y="24" width="209" height="48"/><text x="4" y="41">...</text><path d="M56 48v24M159 48v24"/><text x="4" y="65">&lt; 3</text><text class="e" x="157" y="65">67,068 rows</text><text class="e" x="205" y="65">30 &gt;</text></g>
<g id="EXPERIMENT_TYPE" transform="translate(438,5812)"><rect class="h" width="147" height="24"/><text x="4" y="17">EXPERIMENT_TYPE</text><rect class="b" y="24" width="147" height="48"/><text x="4" y="41">...</text><path d="M38 48v24M100 48v24"/><text class="e" x="98" y="65">3 rows</text><text class="e" x="143" y="65">98 &gt;</text></g>
<g id="GENEEXPRESSIONIMAGES_V" transform="translate(2434,1141)"><rect class="h" width="216" height="24"/><text x="4" y="17">GENEEXPRESSIONIMAGES_V</text><rect class="b" y="24" width="216" height="408"/>
<text x="4" y="41">START</text><text x="4" y="65">END</text><text x="4" y="89">STAGE_RESOLUTION</text><text x="4" y="113">OBJECT_ID</text><text x="4" y="137">STAGE_TEXT</text><text x="4" y="161">IMAGE_ID</text><text x="4" y="185">OBJ_TO_SRC_PHRASE</text><text x="4" y="209">ATTRIBUTION_ID</text><text x="4" y="233">SOURCE_NAME</text><text x="4" y="257">SOURCE_ROW_ID</text><text x="4" y="281">ATTRIBUTION_TYPE</text><text x="4" y="305">STAGE_ID</text><text x="4" y="329">RANK</text><text x="4" y="353">OBJECT_ROW_ID</text><text x="4" y="377">EXPERIMENTSOURCE_ID</text><text x="4" y="401">EXPERIMENTTYPE</text>
<path d="M95 408v24M165 408v24"/><text x="4" y="425">&lt; 5</text><text class="e" x="163" y="425">view</text></g>
<g id="GENEEXPRESSIONIMAGES_BASIC_V_TEST" transform="translate(2386,2368)"><rect class="h" width="313" height="24"/><text x="4" y="17">GENEEXPRESSIONIMAGES_BASIC_V_TEST</text><rect class="b" y="24" width="313" height="120"/>
<text x="4" y="41">FEATURE_ID</text><text x="4" y="65">IMAGE_ID</text><text x="4" y="89">EXPERIMENTSOURCE_ID</text><text x="4" y="113">PROBEID</text>
<path d="M144 120v24M239 120v24"/><text x="4" y="137">&lt; 3</text><text class="e" x="237" y="137">view</text></g>
<g id="EXPRESSION_IMAGES_A_V" transform="translate(2766,2500)"><rect class="h" width="244" height="24"/><text x="26" y="17">EXPRESSION_IMAGES_A_V</text><rect class="b" y="24" width="244" height="672"/>
<text x="4" y="41">IMAGE_ID</text><text x="4" y="65">BIOMEDIA_ID</text><text x="4" y="89">PAPER_ID</text><text x="4" y="113">EXPERIMENT_ID</text><text x="4" y="137">SPECIMENSTAGES_ID</text><text x="4" y="161">SPECIMEN_ID</text><text x="4" y="185">START_STAGE_ID</text><text x="4" y="209">END_STAGE_ID</text><text x="4" y="233">START_STAGE_RANK</text><text x="4" y="257">END_STAGE_RANK</text><text x="4" y="281">EXPRESSIONSTAGESTESTED_ID</text><text x="4" y="305">EXPRESSIONTEST_ID</text><text x="4" y="329">PROBE_ID</text><text x="4" y="353">CDNA_ID</text><text x="4" y="377">CDNA_NAME</text><text x="4" y="401">UMBRELLA_GENE_ID</text><text x="4" y="425">UMBRELLA_GENE_SYMBOL</text><text x="4" y="449">GENE_ID</text><text x="4" y="473">GENE_SYMBOL</text><text x="4" y="497">EXPRESSED_FEATURE_ID</text><text x="4" y="521">EXPRESSED_FEATURE_NAME</text><text x="4" y="545">EXPERIMENTSOURCE_ID</text><text x="4" y="569">STAGE_TEXT</text><text x="4" y="593">EXPRESSIONASSAY_ID</text><text x="4" y="617">ANATOMY_ITEM_ID</text><text x="4" y="641">ANATOMY_ITEM</text><text x="4" y="665">IMAGE_PATTERN_ID</text>
<path d="M113 672v24M188 672v24"/><text x="4" y="689">&lt; 12</text><text class="e" x="186" y="689">view</text></g>
<g id="EXPRESSION_IMAGES_V" transform="translate(2766,3225)"><rect class="h" width="244" height="24"/><text x="34" y="17">EXPRESSION_IMAGES_V</text><rect class="b" y="24" width="244" height="648"/>
<text x="4" y="41">IMAGE_ID</text><text x="4" y="65">BIOMEDIA_ID</text><text x="4" y="89">EXPERIMENT_ID</text><text x="4" y="113">SPECIMENSTAGES_ID</text><text x="4" y="137">SPECIMEN_ID</text><text x="4" y="161">START_STAGE_ID</text><text x="4" y="185">END_STAGE_ID</text><text x="4" y="209">START_STAGE_RANK</text><text x="4" y="233">END_STAGE_RANK</text><text x="4" y="257">EXPRESSIONSTAGESTESTED_ID</text><text x="4" y="281">EXPRESSIONTEST_ID</text><text x="4" y="305">PROBE_ID</text><text x="4" y="329">CDNA_ID</text><text x="4" y="353">CDNA_NAME</text><text x="4" y="377">UMBRELLA_GENE_ID</text><text x="4" y="401">UMBRELLA_GENE_SYMBOL</text><text x="4" y="425">GENE_ID</text><text x="4" y="449">GENE_SYMBOL</text><text x="4" y="473">EXPRESSED_FEATURE_ID</text><text x="4" y="497">EXPRESSED_FEATURE_NAME</text><text x="4" y="521">EXPERIMENTSOURCE_ID</text><text x="4" y="545">STAGE_TEXT</text><text x="4" y="569">EXPRESSIONASSAY_ID</text><text x="4" y="593">ANATOMY_ITEM_ID</text><text x="4" y="617">ANATOMY_ITEM</text><text x="4" y="641">IMAGE_PATTERN_ID</text>
<path d="M114 648v24M189 648v24"/><text x="4" y="665">&lt; 11</text><text class="e" x="187" y="665">view</text></g>
<g id="STAGE_PATTERN_A_V" transform="translate(2422,3472)"><rect class="h" width="243" height="24"/><text x="41" y="17">STAGE_PATTERN_A_V</text><rect class="b" y="24" width="243" height="576"/>
<text x="4" y="41">IMAGE_ID</text><text x="4" y="65">BIOMEDIA_ID</text><text x="4" y="89">PAPER_ID</text><text x="4" y="113">EXPERIMENT_ID</text><text x="4" y="137">SPECIMENSTAGES_ID</text><text x="4" y="161">SPECIMEN_ID</text><text x="4" y="185">START_STAGE_ID</text><text x="4" y="209">END_STAGE_ID</text><text x="4" y="233">START_STAGE_RANK</text><text x="4" y="257">END_STAGE_RANK</text><text x="4" y="281">EXPRESSIONSTAGESTESTED_ID</text><text x="4" y="305">EXPRESSIONTEST_ID</text><text x="4" y="329">PROBE_ID</text><text x="4" y="353">CDNA_ID</text><text x="4" y="377">CDNA_NAME</text><text x="4" y="401">UMBRELLA_GENE_ID</text><text x="4" y="425">UMBRELLA_GENE_SYMBOL</text><text x="4" y="449">GENE_ID</text><text x="4" y="473">GENE_SYMBOL</text><text x="4" y="497">EXPRESSED_FEATURE_ID</text><text x="4" y="521">EXPRESSED_FEATURE_NAME</text><text x="4" y="545">EXPERIMENTSOURCE_ID</text><text x="4" y="569">STAGE_TEXT</text>
<path d="M113 576v24M187 576v24"/><text x="4" y="593">&lt; 10</text><text class="e" x="185" y="593">view</text></g>
<g id="STAGE_PATTERN_V" transform="translate(2422,4101)"><rect class="h" width="243" height="24"/><text x="49" y="17">STAGE_PATTERN_V</text><rect class="b" y="24" width="243" height="552"/>
<text x="4" y="41">IMAGE_ID</text><text x="4" y="65">BIOMEDIA_ID</text><text x="4" y="89">EXPERIMENT_ID</text><text x="4" y="113">SPECIMENSTAGES_ID</text><text x="4" y="137">SPECIMEN_ID</text><text x="4" y="161">START_STAGE_ID</text><text x="4" y="185">END_STAGE_ID</text><text x="4" y="209">START_STAGE_RANK</text><text x="4" y="233">END_STAGE_RANK</text><text x="4" y="257">EXPRESSIONSTAGESTESTED_ID</text><text x="4" y="281">EXPRESSIONTEST_ID</text><text x="4" y="305">PROBE_ID</text><text x="4" y="329">CDNA_ID</text><text x="4" y="353">CDNA_NAME</text><text x="4" y="377">UMBRELLA_GENE_ID</text><text x="4" y="401">UMBRELLA_GENE_SYMBOL</text><text x="4" y="425">GENE_ID</text><text x="4" y="449">GENE_SYMBOL</text><text x="4" y="473">EXPRESSED_FEATURE_ID</text><text x="4" y="497">EXPRESSED_FEATURE_NAME</text><text x="4" y="521">EXPERIMENTSOURCE_ID</text><text x="4" y="545">STAGE_TEXT</text>
<path d="M108 552v24M186 552v24"/><text x="4" y="569">&lt; 9</text><text class="e" x="184" y="569">view</text></g>
<g id="XT_SS_V" transform="translate(2422,4705)"><rect class="h" width="243" height="24"/><text x="88" y="17">XT_SS_V</text><rect class="b" y="24" width="243" height="480"/>
<text x="4" y="41">PROBE_ID</text><text x="4" y="65">EXPERIMENT_ID</text><text x="4" y="89">EXPERIMENT_SOURCE</text><text x="4" y="113">EXPERIMENTSOURCE_ID</text><text x="4" y="137">EXPRESSIONTEST_ID</text><text x="4" y="161">EXPRESSIONSTAGESTESTED_ID</text><text x="4" y="185">SPECIMENSTAGES_ID</text><text x="4" y="209">SPECIMEN_ID</text><text x="4" y="233">START_STAGE_ID</text><text x="4" y="257">END_STAGE_ID</text><text x="4" y="281">STAGE_RESOLUTION_ID</text><text x="4" y="305">STAGE_TEXT</text><text x="4" y="329">START_STAGE_NAME</text><text x="4" y="353">END_STAGE_NAME</text><text x="4" y="377">START_STAGE_RANK</text><text x="4" y="401">END_STAGE_RANK</text><text x="4" y="425">START_STAGE_NUMBER</text><text x="4" y="449">END_STAGE_NUMBER</text><text x="4" y="473">STAGE_RESOLUTION</text>
<path d="M108 480v24M186 480v24"/><text x="4" y="497">&lt; 7</text><text class="e" x="184" y="497">view</text></g>
<g id="GENEEXPRESSIONIMAGES_BASIC_V" transform="translate(2410,5237)"><rect class="h" width="265" height="24"/><text x="4" y="17">GENEEXPRESSIONIMAGES_BASIC_V</text><rect class="b" y="24" width="265" height="96"/>
<text x="4" y="41">FEATURE_ID</text><text x="4" y="65">IMAGE_ID</text><text x="4" y="89">EXPERIMENTSOURCE_ID</text>
<path d="M120 96v24M202 96v24"/><text x="4" y="113">&lt; 3</text><text class="e" x="200" y="113">view</text></g>
<g id="EXPERIMENTSOURCE_SINCE_LAST_SRCHINDX_GEN_V" transform="translate(730,2529)"><rect class="h" width="400" height="24"/><text x="4" y="17">EXPERIMENTSOURCE_SINCE_LAST_SRCHINDX_GEN_V</text><rect class="b" y="24" width="400" height="216"/>
<text x="4" y="41">EXPERIMENTSOURCE_ID</text><text x="4" y="65">NAME</text><text x="4" y="89">CREATED_AT</text><text x="4" y="113">MODIFIED_AT</text><text x="4" y="137">CREATED_BY</text><text x="4" y="161">MODIFIED_BY</text><text x="4" y="185">TRANSACTION_DATE</text><text x="4" y="209">TRANSACTION_TYPE</text>
<path d="M187 216v24M304 216v24"/><text x="4" y="233">&lt; 2</text><text class="e" x="302" y="233">view</text></g>
<g id="AUDIT_EXPERIMENTSOURCE" transform="translate(822,2833)"><rect class="h" width="216" height="24"/><text x="4" y="17">AUDIT_EXPERIMENTSOURCE</text><rect class="b" y="24" width="216" height="216"/><rect class="k" y="24" width="216" height="24"/><rect class="k" y="168" width="216" height="24"/>
<text x="4" y="41">EXPERIMENTSOURCE_ID</text><text x="4" y="65">NAME</text><text x="4" y="89">CREATED_AT</text><text x="4" y="113">MODIFIED_AT</text><text x="4" y="137">CREATED_BY</text><text x="4" y="161">MODIFIED_BY</text><text x="4" y="185">TRANSACTION_DATE</text><text x="4" y="209">TRANSACTION_TYPE</text>
<path d="M91 216v24M168 216v24"/><text x="4" y="233">&lt; 2</text><text class="e" x="166" y="233">1 row</text></g>
<g id="EXPERIMENTSOURCE_INCL_DEL_V" transform="translate(802,3101)"><rect class="h" width="259" height="24"/><text x="4" y="17">EXPERIMENTSOURCE_INCL_DEL_V</text><rect class="b" y="24" width="259" height="216"/>
<text x="4" y="41">EXPERIMENTSOURCE_ID</text><text x="4" y="65">NAME</text><text x="4" y="89">CREATED_AT</text><text x="4" y="113">MODIFIED_AT</text><text x="4" y="137">CREATED_BY</text><text x="4" y="161">MODIFIED_BY</text><text x="4" y="185">TRANSACTION_DATE</text><text x="4" y="209">TRANSACTION_TYPE</text>
<path d="M117 216v24M198 216v24"/><text x="4" y="233">&lt; 2</text><text class="e" x="196" y="233">view</text></g>
<g id="EXPERIMENT" transform="translate(838,3476)"><rect class="h" width="187" height="24"/><text x="47" y="17">EXPERIMENT</text><rect class="b" y="24" width="187" height="240"/><rect class="k" y="24" width="187" height="24"/><rect class="yl" y="48" width="187" height="24"/>
<text x="4" y="41">EXPERIMENT_ID</text><text x="4" y="65">EXPERIMENTSOURCE_ID</text><text x="4" y="89">DESCRIPTION</text><text x="4" y="113">CREATED_BY</text><text x="4" y="137">CREATED_AT</text><text x="4" y="161">MODIFIED_BY</text><text x="4" y="185">MODIFIED_AT</text><text x="4" y="209">TYPE_ID</text><text x="4" y="233">NAME</text>
<path d="M44 240v24M142 240v24"/><text x="4" y="257">&lt; 3</text><text class="e" x="140" y="257">18,806 rows</text><text class="e" x="183" y="257">33 &gt;</text></g>
<g id="EXPERIMENTSOURCE" transform="translate(359,4365)"><rect class="h" width="303" height="24"/><text x="73" y="17">EXPERIMENTSOURCE</text><rect class="b" y="24" width="303" height="168"/><rect class="k" y="24" width="190" height="24"/><path d="M190 24v144"/>
<text x="4" y="41">EXPERIMENTSOURCE_ID</text><text x="194" y="41">integer[4]</text><text x="4" y="65">NAME</text><text x="194" y="65">varchar[128]</text><text x="4" y="89">CREATED_AT</text><text x="194" y="89">timestamp[16,6]</text><text x="4" y="113">MODIFIED_AT</text><text x="194" y="113">timestamp[16,6]</text><text x="4" y="137">CREATED_BY</text><text x="194" y="137">integer[4]</text><text x="4" y="161">MODIFIED_BY</text><text x="194" y="161">integer[4]</text>
<path d="M82 168v24M190 168v24"/><text x="4" y="185">&lt; 1</text><text class="e" x="188" y="185">5 rows</text><text class="e" x="299" y="185">15 &gt;</text><rect width="303" height="192" fill="none" stroke="#000" stroke-width="3"/></g>
<g id="AUDIT_EXPERIMENT" transform="translate(1286,5327)"><rect class="h" width="187" height="24"/><text x="21" y="17">AUDIT_EXPERIMENT</text><rect class="b" y="24" width="187" height="264"/><rect class="k" y="24" width="187" height="24"/><rect class="k" y="216" width="187" height="24"/>
<text x="4" y="41">EXPERIMENT_ID</text><text x="4" y="65">EXPERIMENTSOURCE_ID</text><text x="4" y="89">DESCRIPTION</text><text x="4" y="113">CREATED_BY</text><text x="4" y="137">CREATED_AT</text><text x="4" y="161">MODIFIED_BY</text><text x="4" y="185">MODIFIED_AT</text><text x="4" y="209">TYPE_ID</text><text x="4" y="233">TRANSACTION_DATE</text><text x="4" y="257">TRANSACTION_TYPE</text>
<path d="M57 264v24M153 264v24"/><text x="4" y="281">&lt; 3</text><text class="e" x="151" y="281">7,514 rows</text></g>
<g id="EXPERIMENT_INCL_DEL_V" transform="translate(1282,5644)"><rect class="h" width="195" height="24"/><text x="4" y="17">EXPERIMENT_INCL_DEL_V</text><rect class="b" y="24" width="195" height="264"/>
<text x="4" y="41">EXPERIMENT_ID</text><text x="4" y="65">EXPERIMENTSOURCE_ID</text><text x="4" y="89">DESCRIPTION</text><text x="4" y="113">CREATED_BY</text><text x="4" y="137">CREATED_AT</text><text x="4" y="161">MODIFIED_BY</text><text x="4" y="185">MODIFIED_AT</text><text x="4" y="209">TYPE_ID</text><text x="4" y="233">TRANSACTION_DATE</text><text x="4" y="257">TRANSACTION_TYPE</text>
<path d="M85 264v24M149 264v24"/><text x="4" y="281">&lt; 3</text><text class="e" x="147" y="281">view</text></g>
<g id="EXPERIMENT_SINCE_LAST_SRCHINDX_GEN_V" transform="translate(1211,5960)"><rect class="h" width="336" height="24"/><text x="4" y="17">EXPERIMENT_SINCE_LAST_SRCHINDX_GEN_V</text><rect class="b" y="24" width="336" height="264"/>
<text x="4" y="41">EXPERIMENT_ID</text><text x="4" y="65">EXPERIMENTSOURCE_ID</text><text x="4" y="89">DESCRIPTION</text><text x="4" y="113">CREATED_BY</text><text x="4" y="137">CREATED_AT</text><text x="4" y="161">MODIFIED_BY</text><text x="4" y="185">MODIFIED_AT</text><text x="4" y="209">TYPE_ID</text><text x="4" y="233">TRANSACTION_DATE</text><text x="4" y="257">TRANSACTION_TYPE</text>
<path d="M155 264v24M256 264v24"/><text x="4" y="281">&lt; 3</text><text class="e" x="254" y="281">view</text></g>
</g>
<text x="6" y="6396" style="font-family:'Liberation Sans',Arial,sans-serif;font-size:17px">Generated by SchemaSpy</text>
</svg>
